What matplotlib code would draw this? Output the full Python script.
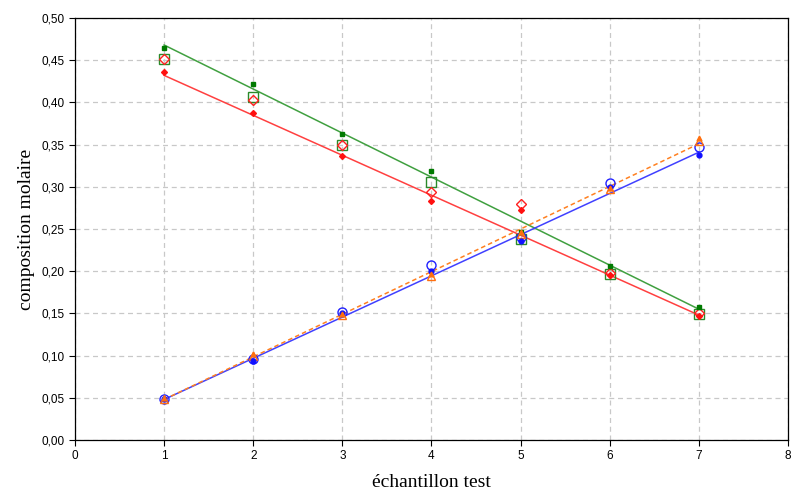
import numpy as np
import matplotlib.pyplot as plt
from matplotlib.ticker import FuncFormatter

x = [1, 2, 3, 4, 5, 6, 7]
x_fit = [1, 7]

# green series
green_exp = [0.464, 0.422, 0.363, 0.319, 0.246, 0.206, 0.157]
green_calc = [0.451, 0.406, 0.350, 0.306, 0.238, 0.197, 0.149]
green_fit = [0.468, 0.155]

# red series
red_exp = [0.436, 0.388, 0.336, 0.283, 0.272, 0.196, 0.147]
red_calc = [0.451, 0.403, 0.350, 0.294, 0.280, 0.198, 0.150]
red_fit = [0.432, 0.148]

# blue series
blue_exp = [0.048, 0.094, 0.150, 0.200, 0.236, 0.300, 0.338]
blue_calc = [0.049, 0.096, 0.152, 0.207, 0.240, 0.305, 0.347]
blue_fit = [0.048, 0.341]

# orange series
orange_exp = [0.050, 0.102, 0.149, 0.197, 0.247, 0.299, 0.358]
orange_calc = [0.049, 0.100, 0.148, 0.194, 0.244, 0.297, 0.354]
orange_fit = [0.048, 0.351]


if __name__ == '__main__':
    fig = plt.figure(figsize=(7.91, 4.92), dpi=100)
    ax = fig.add_axes([0.0948, 0.1057, 0.9014, 0.8577])

    ax.plot(x_fit, green_fit, color='#40a040', lw=1.1, zorder=2)
    ax.plot(x_fit, red_fit, color='#ff4040', lw=1.1, zorder=2)
    ax.plot(x_fit, blue_fit, color='#4040ff', lw=1.1, zorder=2)
    ax.plot(x_fit, orange_fit, color='#ff8020', lw=1.1, ls=(0, (3, 2)), zorder=2)

    # calculated values, open markers
    ax.plot(x, green_calc, 's', ms=7, mfc='none', mec='#2a8a2a', mew=1.0, zorder=3)
    ax.plot(x, red_calc, 'D', ms=5.5, mfc='none', mec='#ff2020', mew=1.0, zorder=3)
    ax.plot(x, blue_calc, 'o', ms=6.5, mfc='none', mec='#2020ff', mew=1.0, zorder=3)
    ax.plot(x, orange_calc, '^', ms=5.5, mfc='none', mec='#ff7010', mew=1.0, zorder=3)

    # experimental values, small filled markers
    ax.plot(x, green_exp, 's', ms=3.5, color='#007a00', zorder=4)
    ax.plot(x, red_exp, 'D', ms=3, color='#ff1010', zorder=4)
    ax.plot(x, blue_exp, 'o', ms=3.5, color='#1010ff', zorder=4)
    ax.plot(x, orange_exp, '^', ms=3.5, color='#ff7010', zorder=4)

    ax.set_xlim(0, 8)
    ax.set_ylim(0, 0.5)
    ax.set_xticks(np.arange(0, 9, 1))
    ax.set_yticks(np.arange(0, 0.51, 0.05))
    ax.yaxis.set_major_formatter(FuncFormatter(lambda v, p: ('%.2f' % v).replace('.', ',')))
    ax.grid(True, color='#c8c8c8', ls=(0, (4, 3)), lw=0.9)
    ax.set_axisbelow(True)
    ax.tick_params(labelsize=8.5, length=4, width=0.8, direction='out')
    for lab in ax.get_xticklabels() + ax.get_yticklabels():
        lab.set_family('Liberation Sans')
    for s in ax.spines.values():
        s.set_linewidth(0.9)

    ax.set_xlabel('échantillon test', family='Liberation Serif', fontsize=14, labelpad=8)
    ax.set_ylabel('composition molaire', family='Liberation Serif', fontsize=14, labelpad=5)

    plt.savefig('out.png', dpi=100)
